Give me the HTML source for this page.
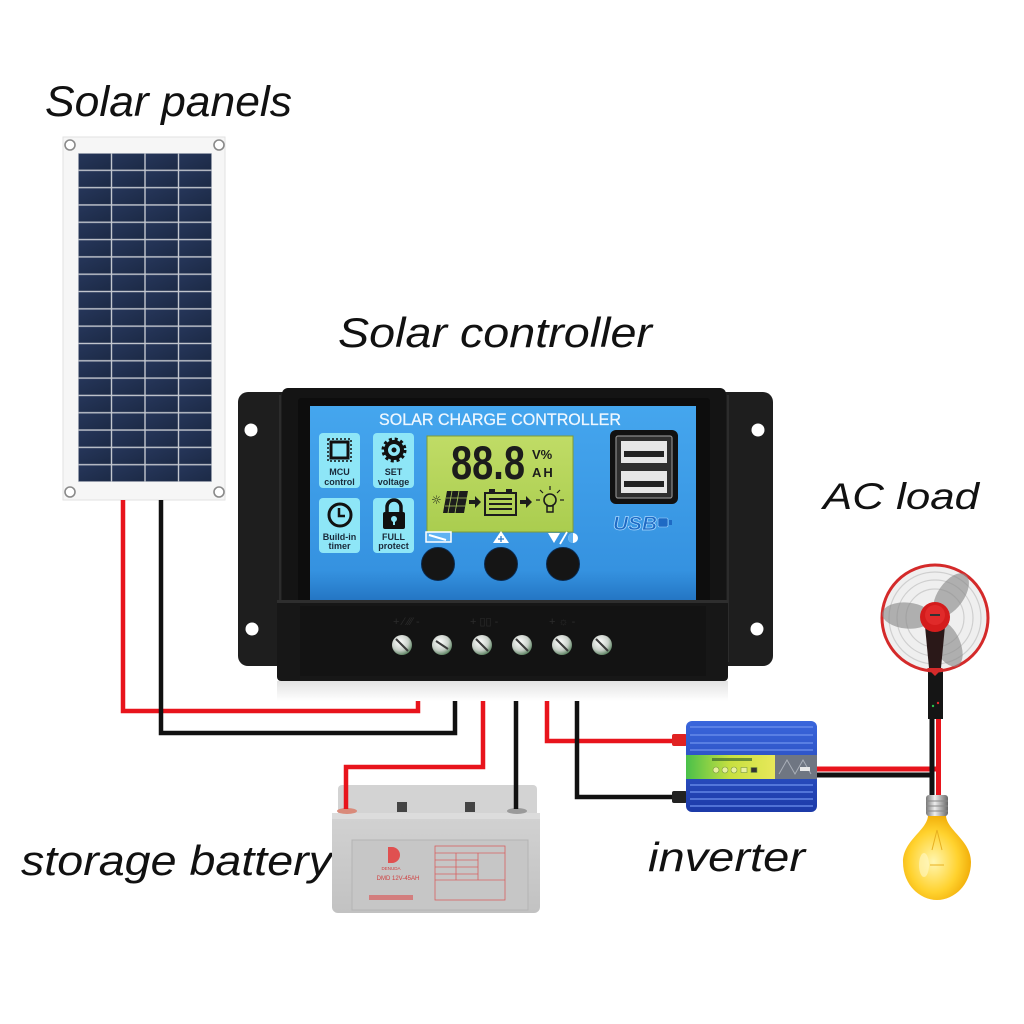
<!DOCTYPE html>
<html><head><meta charset="utf-8"><style>html,body{margin:0;padding:0;background:#fff;}svg{display:block}</style></head>
<body>
<svg width="1024" height="1024" viewBox="0 0 1024 1024" xmlns="http://www.w3.org/2000/svg">
<defs>
<linearGradient id="cellg" x1="0" y1="0" x2="1" y2="1"><stop offset="0" stop-color="#26365a"/><stop offset="1" stop-color="#1c2a46"/></linearGradient>
<pattern id="cells" patternUnits="userSpaceOnUse" x="78" y="153" width="33.5" height="17.316">
  <rect width="33.5" height="17.316" fill="#c3c7cf"/>
  <rect x="0.7" y="0.7" width="32.1" height="15.9" fill="url(#cellg)"/>
</pattern>
<linearGradient id="blue" x1="0" y1="0" x2="0" y2="1">
  <stop offset="0" stop-color="#45a6ee"/><stop offset="0.85" stop-color="#3592e0"/><stop offset="1" stop-color="#2476c4"/>
</linearGradient>
<linearGradient id="lcd" x1="0" y1="0" x2="0" y2="1"><stop offset="0" stop-color="#c0dc66"/><stop offset="1" stop-color="#aacd4f"/></linearGradient>
<radialGradient id="screw" cx="0.4" cy="0.35" r="0.7"><stop offset="0" stop-color="#ffffff"/><stop offset="0.6" stop-color="#c8cfc8"/><stop offset="1" stop-color="#4f7a55"/></radialGradient>
<linearGradient id="inv" x1="0" y1="0" x2="0" y2="1"><stop offset="0" stop-color="#3a66dc"/><stop offset="1" stop-color="#1c3aa8"/></linearGradient>
<linearGradient id="lab" x1="0" y1="0" x2="1" y2="0"><stop offset="0" stop-color="#49c04a"/><stop offset="0.5" stop-color="#c8e040"/><stop offset="1" stop-color="#e8e85a"/></linearGradient>
<radialGradient id="bulb" cx="0.45" cy="0.55" r="0.6"><stop offset="0" stop-color="#fff6b0"/><stop offset="0.6" stop-color="#ffd22e"/><stop offset="1" stop-color="#eea500"/></radialGradient>
<linearGradient id="sock" x1="0" y1="0" x2="1" y2="0"><stop offset="0" stop-color="#777"/><stop offset="0.4" stop-color="#eee"/><stop offset="1" stop-color="#666"/></linearGradient>
<linearGradient id="refl" x1="0" y1="0" x2="0" y2="1"><stop offset="0" stop-color="#e2e2e2"/><stop offset="1" stop-color="#ffffff"/></linearGradient>
<linearGradient id="batt" x1="0" y1="0" x2="0" y2="1"><stop offset="0" stop-color="#d2d2d2"/><stop offset="1" stop-color="#c2c2c2"/></linearGradient>
</defs>

<rect width="1024" height="1024" fill="#fff"/>

<!-- Labels -->
<g font-family="'Liberation Sans', sans-serif" font-style="italic" fill="#111">
  <text x="45" y="116" font-size="43" textLength="247" lengthAdjust="spacingAndGlyphs">Solar panels</text>
  <text x="338" y="347" font-size="42" textLength="314" lengthAdjust="spacingAndGlyphs">Solar controller</text>
  <text x="823" y="509" font-size="37" textLength="156" lengthAdjust="spacingAndGlyphs">AC load</text>
  <text x="21" y="875" font-size="42" textLength="311" lengthAdjust="spacingAndGlyphs">storage battery</text>
  <text x="648" y="871" font-size="41" textLength="157" lengthAdjust="spacingAndGlyphs">inverter</text>
</g>

<!-- Solar panel -->
<rect x="63" y="137" width="162" height="363" fill="#f6f6f6" stroke="#e2e2e2" stroke-width="1"/>
<rect x="78" y="153" width="134" height="329" fill="url(#cells)"/>
<g fill="#fff" stroke="#8a8a8a" stroke-width="1.6">
  <circle cx="70" cy="145" r="5"/><circle cx="219" cy="145" r="5"/>
  <circle cx="70" cy="492" r="5"/><circle cx="219" cy="492" r="5"/>
</g>

<!-- Battery -->
<rect x="338" y="785" width="199" height="34" rx="4" fill="#d3d3d3"/>
<rect x="332" y="813" width="208" height="100" rx="6" fill="url(#batt)"/>
<rect x="332" y="813" width="208" height="6" fill="#dcdcdc"/>
<rect x="352" y="840" width="176" height="70" fill="#c6c6c6" stroke="#b4b4b4" stroke-width="1"/>
<rect x="397" y="802" width="10" height="10" fill="#444"/>
<rect x="465" y="802" width="10" height="10" fill="#444"/>
<ellipse cx="347" cy="811" rx="10" ry="3" fill="#d98a7a"/>
<ellipse cx="517" cy="811" rx="10" ry="3" fill="#9a9a9a"/>
<path d="M388 847 h4 a8 8 0 0 1 0 16 h-4 z" fill="#e05050"/>
<text x="391" y="870" font-family="'Liberation Sans', sans-serif" font-size="4.5" fill="#d04040" text-anchor="middle">DENUDA</text>
<text x="398" y="880" font-family="'Liberation Sans', sans-serif" font-size="6" fill="#d04040" text-anchor="middle">DMD 12V-45AH</text>
<g fill="none" stroke="#d86060" stroke-width="0.8">
  <rect x="435" y="846" width="70" height="54"/>
  <line x1="435" y1="853" x2="505" y2="853"/>
  <line x1="435" y1="860" x2="478" y2="860"/><line x1="435" y1="867" x2="478" y2="867"/><line x1="435" y1="874" x2="478" y2="874"/>
  <line x1="456" y1="853" x2="456" y2="880"/><line x1="478" y1="853" x2="478" y2="880"/>
  <line x1="435" y1="880" x2="505" y2="880"/>
</g>
<g fill="#d86060"><rect x="369" y="895" width="44" height="5" opacity="0.7"/></g>

<!-- Wires -->
<g fill="none" stroke-width="4.5" stroke-linejoin="miter">
  <path d="M123 500 V711 H418 V676" stroke="#e8141c"/>
  <path d="M161 500 V733 H455 V676" stroke="#111"/>
  <path d="M483 676 V767 H346 V809" stroke="#e8141c"/>
  <path d="M516 676 V809" stroke="#111"/>
  <path d="M547 676 V741 H676" stroke="#e8141c"/>
  <path d="M577 676 V797 H676" stroke="#111"/>
  <path d="M815 769 H940" stroke="#e8141c" stroke-width="5"/>
  <path d="M815 775 H934" stroke="#111" stroke-width="5"/>
  <path d="M932 715 V795" stroke="#111" stroke-width="5"/>
  <path d="M938.5 715 V795" stroke="#e8141c" stroke-width="5"/>
</g>

<!-- Inverter -->
<rect x="672" y="734" width="15" height="12" rx="2" fill="#e02222"/>
<rect x="672" y="791" width="15" height="12" rx="2" fill="#222"/>
<rect x="686" y="721" width="131" height="91" rx="6" fill="url(#inv)"/>
<g stroke="#6f92ee" stroke-width="1.2">
  <line x1="690" y1="727" x2="813" y2="727"/><line x1="690" y1="735" x2="813" y2="735"/>
  <line x1="690" y1="743" x2="813" y2="743"/><line x1="690" y1="750" x2="813" y2="750"/>
  <line x1="690" y1="785" x2="813" y2="785"/><line x1="690" y1="792" x2="813" y2="792"/>
  <line x1="690" y1="799" x2="813" y2="799"/><line x1="690" y1="806" x2="813" y2="806"/>
</g>
<rect x="686" y="755" width="89" height="24" fill="url(#lab)"/>
<rect x="775" y="755" width="42" height="24" fill="#6f7682"/>
<path d="M779 774 L787 760 L795 774 L803 760 L811 774" fill="none" stroke="#a9afb8" stroke-width="1"/>
<rect x="800" y="767" width="10" height="4" fill="#e8e8e8"/>
<rect x="712" y="758" width="40" height="3" fill="#3a6a2a" opacity="0.7"/>
<g fill="#e8f0a0" stroke="#7a9a40" stroke-width="0.6">
  <circle cx="716" cy="770" r="3"/><circle cx="725" cy="770" r="3"/><circle cx="734" cy="770" r="3"/>
  <rect x="741" y="767.5" width="6" height="5"/><rect x="751" y="767.5" width="6" height="5" fill="#333"/>
</g>

<!-- Controller -->
<rect x="238" y="392" width="535" height="274" rx="10" fill="#1e1e1e"/>
<line x1="280" y1="395" x2="280" y2="662" stroke="#2c2c2c" stroke-width="2"/>
<line x1="728" y1="395" x2="728" y2="662" stroke="#2c2c2c" stroke-width="2"/>
<g fill="#fff">
  <circle cx="251" cy="430" r="6.5"/><circle cx="758" cy="430" r="6.5"/>
  <circle cx="252" cy="629" r="6.5"/><circle cx="757" cy="629" r="6.5"/>
</g>
<rect x="282" y="388" width="444" height="218" rx="6" fill="#141414"/>
<rect x="298" y="398" width="412" height="206" rx="3" fill="#0d0d0d"/>
<rect x="310" y="406" width="386" height="194" fill="url(#blue)"/>
<!-- terminal block -->
<rect x="277" y="600" width="451" height="81" rx="4" fill="#171717"/>
<rect x="277" y="600" width="451" height="3" fill="#2e2e2e"/>
<rect x="300" y="606" width="406" height="70" fill="#131313"/>
<rect x="277" y="681" width="451" height="20" fill="url(#refl)"/>
<g font-family="'Liberation Sans', sans-serif" font-size="11" fill="#2c2c2c">
  <text x="393" y="625">+ ⁄ ⁄⁄⁄ -</text>
  <text x="470" y="625">+ ▯▯ -</text>
  <text x="549" y="625">+ ☼ -</text>
</g>
<g>
  <circle cx="402" cy="645" r="10" fill="url(#screw)"/>
  <circle cx="442" cy="645" r="10" fill="url(#screw)"/>
  <circle cx="482" cy="645" r="10" fill="url(#screw)"/>
  <circle cx="522" cy="645" r="10" fill="url(#screw)"/>
  <circle cx="562" cy="645" r="10" fill="url(#screw)"/>
  <circle cx="602" cy="645" r="10" fill="url(#screw)"/>
</g>
<g stroke="#3a3a3a" stroke-width="2">
  <line x1="396" y1="639" x2="408" y2="651"/><line x1="436" y1="641" x2="448" y2="649"/>
  <line x1="476" y1="639" x2="488" y2="651"/><line x1="516" y1="639" x2="528" y2="651"/>
  <line x1="556" y1="639" x2="568" y2="651"/><line x1="596" y1="639" x2="608" y2="651"/>
</g>

<!-- blue panel content -->
<text x="379" y="425" font-family="'Liberation Sans', sans-serif" font-size="16.5" fill="#eef7ff" stroke="#eef7ff" stroke-width="0.25" textLength="242" lengthAdjust="spacingAndGlyphs">SOLAR CHARGE CONTROLLER</text>

<g fill="#8ee6f7">
  <rect x="319" y="433" width="41" height="55" rx="4"/>
  <rect x="373" y="433" width="41" height="55" rx="4"/>
  <rect x="319" y="498" width="41" height="55" rx="4"/>
  <rect x="373" y="498" width="41" height="55" rx="4"/>
</g>
<!-- MCU chip -->
<rect x="331" y="442" width="17" height="16" fill="none" stroke="#111" stroke-width="3"/>
<rect x="328" y="439" width="23" height="22" fill="none" stroke="#111" stroke-width="1.5" stroke-dasharray="2 2"/>
<!-- gear -->
<circle cx="394" cy="450" r="8" fill="none" stroke="#111" stroke-width="4"/>
<circle cx="394" cy="450" r="11" fill="none" stroke="#111" stroke-width="3" stroke-dasharray="3 2.8"/>
<circle cx="394" cy="450" r="2.5" fill="#111"/>
<!-- clock -->
<circle cx="340" cy="515" r="11" fill="none" stroke="#111" stroke-width="3"/>
<path d="M339 508 V516 H345" fill="none" stroke="#111" stroke-width="2.5"/>
<!-- lock -->
<path d="M387 513 V507 a7 7 0 0 1 14 0 V513" fill="none" stroke="#111" stroke-width="3.5"/>
<rect x="383" y="512" width="22" height="17" rx="2" fill="#111"/>
<circle cx="394" cy="519" r="3" fill="#8ee6f7"/>
<rect x="393" y="520" width="2" height="5" fill="#8ee6f7"/>
<g font-family="'Liberation Sans', sans-serif" font-size="9" font-weight="bold" fill="#1a2a3a" text-anchor="middle">
  <text x="339.5" y="475">MCU</text><text x="339.5" y="485">control</text>
  <text x="393.5" y="475">SET</text><text x="393.5" y="485">voltage</text>
  <text x="339.5" y="540">Build-in</text><text x="339.5" y="549">timer</text>
  <text x="393.5" y="540">FULL</text><text x="393.5" y="549">protect</text>
</g>

<!-- LCD -->
<rect x="427" y="436" width="146" height="96" fill="url(#lcd)" stroke="#7c9a3a" stroke-width="1"/>
<text x="451" y="479" font-family="'Liberation Sans', sans-serif" font-size="47" font-weight="bold" fill="#1c1c1c" textLength="74" lengthAdjust="spacingAndGlyphs">88.8</text>
<text x="532" y="459" font-family="'Liberation Sans', sans-serif" font-size="13" font-weight="bold" fill="#1c1c1c">V%</text>
<text x="532" y="477" font-family="'Liberation Sans', sans-serif" font-size="13" font-weight="bold" fill="#1c1c1c" letter-spacing="2">AH</text>
<text x="431" y="504" font-family="'DejaVu Sans', sans-serif" font-size="12" fill="#1c1c1c">☼</text>
<path d="M447 491 H468 L464 513 H443 Z" fill="#1c1c1c"/>
<g stroke="#a8c95a" stroke-width="0.8"><line x1="452" y1="491" x2="448" y2="513"/><line x1="459" y1="491" x2="455" y2="513"/><line x1="446" y1="498" x2="467" y2="498"/><line x1="445" y1="506" x2="466" y2="506"/></g>
<path d="M469 500 h6 v-4 l6 6 l-6 6 v-4 h-6 z" fill="#1c1c1c"/>
<rect x="485" y="493" width="31" height="22" fill="none" stroke="#1c1c1c" stroke-width="2"/>
<rect x="489" y="489" width="6" height="4" fill="#1c1c1c"/><rect x="506" y="489" width="6" height="4" fill="#1c1c1c"/>
<g stroke="#1c1c1c" stroke-width="2"><line x1="489" y1="499" x2="512" y2="499"/><line x1="489" y1="504" x2="512" y2="504"/><line x1="489" y1="509" x2="512" y2="509"/></g>
<path d="M520 500 h6 v-4 l6 6 l-6 6 v-4 h-6 z" fill="#1c1c1c"/>
<circle cx="550" cy="500" r="6" fill="none" stroke="#1c1c1c" stroke-width="1.6"/>
<rect x="547" y="506" width="6" height="6" fill="none" stroke="#1c1c1c" stroke-width="1.5"/>
<g stroke="#1c1c1c" stroke-width="1.2"><line x1="540" y1="500" x2="536" y2="500"/><line x1="560" y1="500" x2="564" y2="500"/><line x1="550" y1="490" x2="550" y2="486"/><line x1="543" y1="493" x2="540" y2="490"/><line x1="557" y1="493" x2="560" y2="490"/></g>

<!-- USB -->
<rect x="610" y="430" width="68" height="74" rx="6" fill="#111"/>
<rect x="616" y="436" width="56" height="62" rx="2" fill="#2e2e2e" stroke="#8a8a8a" stroke-width="1.2"/>
<rect x="621" y="441" width="46" height="22" fill="#e6e6e6"/>
<rect x="624" y="451" width="40" height="6" fill="#222"/>
<rect x="621" y="471" width="46" height="22" fill="#e6e6e6"/>
<rect x="624" y="481" width="40" height="6" fill="#222"/>
<text x="613" y="530" font-family="'Liberation Sans', sans-serif" font-size="19" font-weight="bold" font-style="italic" fill="#1e6ac4" stroke="#a8d8ff" stroke-width="0.7" textLength="44" lengthAdjust="spacingAndGlyphs">USB</text>
<rect x="658" y="518" width="10" height="9" rx="1.5" fill="#1e6ac4" stroke="#a8d8ff" stroke-width="0.6"/>
<rect x="669" y="520" width="3" height="5" fill="#1e6ac4"/>

<!-- button labels -->
<rect x="426" y="532" width="25" height="10" fill="#5fb2f2" stroke="#fff" stroke-width="1.5"/>
<path d="M429 535 L446 540" stroke="#fff" stroke-width="2"/>
<path d="M493 543 L509 543 L501 531 Z" fill="#fff"/>
<path d="M501 536 V542 M498 539 H504" stroke="#2a7ccc" stroke-width="1.3"/>
<path d="M548 533 L560 533 L554 543 Z" fill="#fff"/>
<path d="M560 544 L567 532" stroke="#fff" stroke-width="1.8"/>
<circle cx="573" cy="538" r="5" fill="#fff"/>
<path d="M573 533 a5 5 0 0 0 0 10 z" fill="#5fb2f2"/>

<!-- buttons -->
<g fill="#151515" stroke="#0a2a50" stroke-width="1">
  <circle cx="438" cy="564" r="16.5"/>
  <circle cx="501" cy="564" r="16.5"/>
  <circle cx="563" cy="564" r="16.5"/>
</g>

<!-- Fan -->
<rect x="928" y="665" width="15" height="54" fill="#151515"/>
<circle cx="935" cy="618" r="53" fill="#efefef" stroke="#d42a2a" stroke-width="3"/>
<g fill="none" stroke="#cfcfcf" stroke-width="1.2">
  <circle cx="935" cy="618" r="46"/><circle cx="935" cy="618" r="38"/><circle cx="935" cy="618" r="29"/>
</g>
<g fill="#8d8d8d" opacity="0.65">
  <ellipse cx="935" cy="590" rx="13" ry="25" transform="rotate(35 935 618)"/>
  <ellipse cx="935" cy="590" rx="13" ry="25" transform="rotate(155 935 618)"/>
  <ellipse cx="935" cy="590" rx="13" ry="25" transform="rotate(275 935 618)"/>
</g>
<path d="M925 626 H945 L941 668 H929 Z" fill="#2a1818"/>
<circle cx="935" cy="617" r="15" fill="#d41c1c"/>
<circle cx="935" cy="615" r="10" fill="#e02a2a"/>
<rect x="930" y="614" width="10" height="2" fill="#333"/>
<path d="M927 668 L943 668 L935 676 Z" fill="#d42a2a"/>
<circle cx="933" cy="706" r="1.2" fill="#2ac24a"/>
<circle cx="938" cy="703" r="1.2" fill="#e02a2a"/>

<!-- Bulb -->
<path d="M928 815 C928 830 903 840 903 862 C903 885 920 900 937 900 C954 900 971 885 971 862 C971 840 946 830 946 815 Z" fill="url(#bulb)"/>
<ellipse cx="924" cy="865" rx="5" ry="12" fill="#fff8c8" opacity="0.6"/>
<path d="M932 850 L937 830 L942 850 M930 865 H944" fill="none" stroke="#e8b020" stroke-width="1"/>
<rect x="926" y="795" width="22" height="21" rx="3" fill="url(#sock)"/>
<g stroke="#888" stroke-width="1"><line x1="926" y1="801" x2="948" y2="801"/><line x1="926" y1="806" x2="948" y2="806"/><line x1="926" y1="811" x2="948" y2="811"/></g>
</svg>
</body></html>
